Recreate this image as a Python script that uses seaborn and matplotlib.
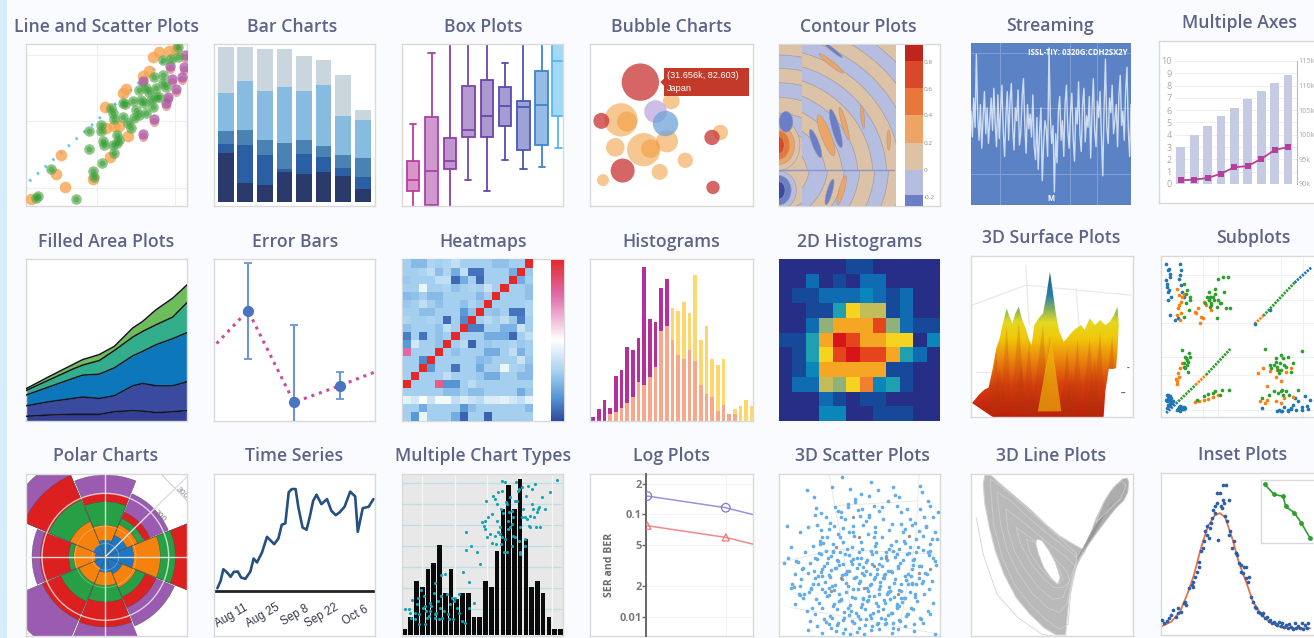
import warnings
import numpy as np
import pandas as pd
import matplotlib
matplotlib.use('Agg')
import matplotlib.pyplot as plt
import seaborn as sns
from matplotlib.colors import LinearSegmentedColormap, ListedColormap
from matplotlib.patches import Circle, Ellipse, Polygon, Rectangle, Wedge

warnings.filterwarnings('ignore')
sns.set_theme(style='white')
plt.rcParams['font.family'] = ['Open Sans', 'DejaVu Sans']

W, H = 1314, 638
BG = '#fafbfe'
FRAME = '#d9d9d9'
TITLE = '#5d6488'

# Line and Scatter Plots
scatter_line_x = [90, 400, 563]
scatter_line_y = [545, 265, 120]
scatter_orange_x = [95, 170, 197, 185, 280, 333, 318, 360, 385, 372, 380, 430, 450, 462, 478, 510, 530, 320, 345]
scatter_orange_y = [598, 522, 563, 467, 537, 473, 322, 380, 410, 280, 268, 228, 212, 170, 155, 152, 145, 385, 378]
scatter_green_x = [115, 110, 155, 230, 282, 285, 307, 268, 268, 305, 305, 312, 315, 340, 352, 345, 352, 335, 340, 345, 370, 372,
                   378, 400, 405, 395, 410, 435, 440, 460, 420, 450, 470, 480, 465, 490, 490, 490, 515, 535, 535, 425, 360, 440,
                   470, 500, 420, 455, 385]
scatter_green_y = [590, 595, 508, 600, 515, 532, 490, 393, 447, 375, 395, 425, 437, 437, 405, 460, 430, 325, 340, 358, 350, 310,
                   312, 303, 355, 385, 330, 310, 340, 320, 270, 275, 265, 290, 232, 225, 250, 178, 175, 170, 140, 300, 420, 265,
                   290, 260, 345, 300, 370]
scatter_purple_x = [430, 430, 465, 500, 505, 530, 518, 547, 513, 555, 558]
scatter_purple_y = [242, 403, 357, 310, 290, 268, 238, 232, 197, 200, 165]

# Bar Charts, one row per layer from the bottom
bar_layers = [[30.3, 11.9, 10.6, 18.4, 17.0, 18.4, 16.0, 8.0],
              [5.7, 23.3, 18.6, 2.0, 12.7, 9.4, 4.9, 7.2],
              [8.0, 9.4, 9.2, 16.0, 8.8, 6.5, 7.8, 11.9],
              [23.1, 30.0, 30.0, 34.4, 29.9, 38.0, 24.3, 23.3],
              [28.6, 20.9, 25.8, 23.5, 21.5, 15.1, 25.6, 6.5]]
bar_colors = ['#2a3a6b', '#2b5fa3', '#4a82b3', '#87bbe0', '#c9d6de']

# Box Plots
box_pos = [53, 109, 164, 219, 275, 330, 385, 440, 490]
box_lo = [640, 640, 640, 542, 576, 481, 509, 502, 445]
box_q1 = [576, 616, 509, 411, 411, 380, 451, 437, 347]
box_med = [541, 515, 484, 392, 349, 319, 320, 314, 183]
box_q3 = [483, 350, 415, 258, 240, 260, 304, 214, 110]
box_hi = [372, 157, 90, 90, 90, 188, 90, 90, 90]
box_colors = ['#bb3f9f', '#a844a8', '#8f3fa8', '#7a48a8', '#6a45a8', '#5a4cb0', '#4a58b8', '#3f85d0', '#55b8ee']

# Bubble Charts
bubble_red_x = [735, 618, 682, 950, 953]
bubble_red_y = [246, 363, 513, 413, 564]
bubble_red_r = [56, 24, 36, 23, 20]
bubble_orange_x = [828, 677, 695, 660, 745, 765, 815, 975, 870, 793, 623]
bubble_orange_y = [303, 360, 365, 443, 450, 447, 425, 398, 482, 517, 542]
bubble_orange_r = [25, 50, 30, 28, 50, 28, 33, 23, 23, 24, 18]

# Contour Plots
contour_radii = [640, 590, 545, 505, 465, 425, 385, 345, 305, 262, 218, 170, 118]
contour_levels = [617, 585, 508, 428, 345, 265, 183, 135]
contour_level_colors = ['#6a7fc8', '#b5bde0', '#dcc3a8', '#eda565', '#e8773a', '#d9482b', '#c0241f']
contour_ticks = ['-0.2', '0', '0.2', '0.4', '0.6', '0.8']
contour_tick_y = [593, 511, 430, 347, 268, 186]

# Streaming
stream_y = [58, 42, 66, 48, 93, 55, 40, 62, 35, 54, 70, 44, 60, 38, 52, 66, 46, 72, 50, 36, 68, 41, 58, 74, 45, 30, 56, 70, 40, 64,
            75, 48, 34, 60, 52, 71, 37, 44, 66, 78, 50, 32, 62, 47, 56, 42, 68, 36, 28, 54, 22, 45, 60, 15, 38, 52, 47, 30, 97, 55,
            38, 49, 8, 44, 26, 58, 67, 40, 52, 30, 63, 74, 46, 35, 57, 69, 41, 27, 60, 50, 76, 44, 33, 62, 72, 39, 55, 48, 67, 29,
            58, 78, 46, 36, 64, 54, 70, 42, 18, 60, 90, 48, 38, 66, 57, 74, 44, 52, 62, 36, 68, 80, 49, 58, 40, 70, 85, 46, 30, 62]
stream_grid_x = [18, 62, 79]
stream_grid_y = [19, 60, 94]

# Multiple Axes
axes_bars = [3.0, 4.0, 4.7, 5.5, 6.2, 6.9, 7.55, 8.2, 8.85]
axes_line_k = [90.75, 90.9, 91.2, 92.1, 93.4, 93.65, 95.1, 96.9, 97.5]
axes_left_ticks = [0, 1, 2, 3, 4, 5, 6, 7, 8, 9, 10]
axes_right_ticks = [90, 95, 100, 105, 110, 115]
axes_right_labels = ['90k', '95k', '100k', '105k', '110k', '115k']

# Filled Area Plots
area_x = [0, 14.5, 29, 35.2, 45.5, 54.9, 66.3, 72.5, 80.8, 91.1, 100]
area_t1 = [2.9, 3.7, 4.1, 4.1, 4.1, 5.7, 6.4, 6.1, 5.1, 5.7, 6.4]
area_t2 = [9.4, 11.9, 13.9, 14.8, 13.9, 15.6, 21.7, 23.2, 21.7, 21.7, 24.2]
area_t3 = [16, 21.1, 26.2, 28.3, 28.9, 32.8, 40.2, 43, 47.1, 50.8, 54.5]
area_t4 = [18.8, 25.4, 32, 34.5, 37.3, 43.5, 51.8, 55.3, 59.4, 64.1, 73]
area_t5 = [19.9, 27.5, 34.8, 37.9, 41, 46.1, 57.4, 61.5, 68.7, 75.8, 84]
area_colors = ['#343f96', '#3a4a9e', '#0c77bb', '#32ae8c', '#6dbd5a']

# Error Bars
err_x = [21.1, 49.7, 78.4]
err_y = [68.2, 11.5, 21.9]
err_hi = [97.7, 59.4, 30.5]
err_lo = [38.5, -3, 13.5]
err_line_x = [1.6, 21.1, 49.7, 78.4, 100]
err_line_y = [47.8, 68.2, 11.5, 21.9, 30.3]

# Heatmaps, rows from the top
heat_rows = [
    [.30, .24, .24, .32, .30, .32, .36, .30, .30, .30, .30, .26, .26, .30, .30, 1.0],
    [.30, .30, .32, .36, .25, .32, .20, .36, .08, .08, .30, .30, .30, .20, 1.0, .28],
    [.28, .30, .30, .30, .36, .36, .06, .20, .30, .06, .30, .30, .30, 1.0, .20, .30],
    [.30, .30, .46, .30, .30, .32, .26, .30, .32, .30, .38, .30, 1.0, .30, .30, .26],
    [.24, .26, .30, .24, .24, .30, .30, .30, .30, .24, .30, 1.0, .30, .30, .30, .26],
    [.28, .30, .36, .30, .26, .30, .30, .26, .32, .28, 1.0, .30, .30, .30, .30, .32],
    [.30, .30, .25, .25, .30, .30, .30, .15, .26, 1.0, .28, .26, .30, .08, .08, .32],
    [.32, .30, .30, .32, .30, .06, .30, .12, 1.0, .30, .34, .30, .35, .28, .10, .30],
    [.26, .30, .30, .30, .26, .36, .30, 1.0, .10, .10, .30, .30, .22, .22, .38, .30],
    [.10, .30, .08, .30, .26, .30, 1.0, .30, .30, .30, .20, .20, .20, .06, .30, .36],
    [.15, .40, .30, .30, .26, 1.0, .30, .34, .05, .30, .28, .30, .30, .32, .28, .30],
    [.78, .30, .30, .30, 1.0, .30, .26, .30, .30, .30, .20, .20, .30, .36, .22, .30],
    [.30, .30, .12, 1.0, .30, .30, .30, .30, .30, .24, .26, .30, .30, .30, .38, .28],
    [.30, .30, 1.0, .15, .30, .30, .08, .30, .30, .20, .30, .30, .46, .32, .30, .24],
    [.30, 1.0, .30, .30, .30, .36, .30, .30, .30, .28, .20, .20, .30, .30, .24, .24],
    [1.0, .30, .30, .30, .82, .14, .14, .30, .35, .30, .30, .30, .30, .30, .30, .30],
    [.30, .30, .30, .30, .30, .25, .25, .30, .25, .25, .30, .30, .30, .30, .20, .28],
    [.44, .40, .50, .38, .48, .48, .36, .42, .38, .34, .42, .42, .44, .40, .36, .44],
    [.30, .30, .20, .30, .30, .30, .30, .15, .25, .30, .30, .30, .30, .30, .30, .24],
    [.30, .15, .46, .30, .30, .30, .20, .05, .30, .30, .05, .30, .30, .30, .30, .30]]
heat_colors = ['#2e4a9e', '#5a9ad8', '#a5d0ef', '#ffffff', '#e06aa8', '#e32a2a']
heat_stops = [0, .15, .3, .5, .78, 1]

# Histograms
hist_a = [2.3, 7.4, 12.9, 7.8, 27.7, 31.4, 45.9, 43.9, 51.2, 95, 62.7, 61.3, 82.4, 87.7, 49.8, 40.6, 38.5, 44.1, 37, 22.1, 16.6,
          15, 6.1, 9.8, 4.1, 4.1, 0, 0, 0]
hist_b = [0, 0, 0, 4.1, 5.7, 7.8, 10.9, 15, 24.2, 22.1, 27.3, 33.4, 55.3, 58.4, 69.7, 68, 73.4, 66.6, 90, 49.8, 58.8, 38.5, 34.8,
          38.5, 4.5, 7.4, 9.4, 12.9, 9.4]

# 2D Histograms, rows from the top
hist2d_rows = [[0, 0, 0, 0, 0, 1, 1, 0, 0, 0, 0, 0],
               [0, 0, 2, 0, 1, 0, 2, 2, 0, 0, 0, 0],
               [0, 1, 1, 2, 2, 2, 3, 2, 1, 2, 0, 0],
               [0, 0, 1, 1, 4, 7, 6, 6, 1, 2, 0, 0],
               [0, 0, 2, 5, 8, 8, 7.5, 10, 5, 2, 1, 1],
               [1, 1, 4, 8, 11, 10, 8, 8, 7, 7, 0, 3],
               [0, 1, 4, 7, 9.5, 11, 10, 10, 7.5, 4, 2, 0],
               [0, 1, 3, 8, 8, 8, 8, 8, 1, 1, 0, 0],
               [0, 2, 2, 6, 5, 7, 9, 3, 4, 1, 0, 0],
               [0, 0, 0, 2, 1, 0, 1, .5, 0, 0, 0, 0],
               [0, 0, 0, 3, 3, 0, 0, 1, 1, 1, 0, 0]]
hist2d_colors = ['#262f85', '#17499b', '#0f6cb2', '#0a86bb', '#1f9fb0', '#90b27a', '#c2bd58', '#f5d320', '#f5a623', '#f08030',
                 '#e5451d', '#d6151b']

# 3D Surface Plots
surface_x = [580, 600, 615, 628, 640, 650, 660, 668, 680, 688, 697, 705, 715, 725, 735, 745, 752, 760, 772, 785, 795, 805, 812, 822,
             832, 845, 858, 870, 880, 895, 905, 920, 935, 950, 965, 978, 990, 1000, 1004, 1000, 996, 988, 975, 965, 960, 640]
surface_y = [535, 510, 495, 488, 430, 370, 340, 300, 250, 275, 295, 265, 245, 285, 310, 345, 360, 300, 280, 265, 210, 140, 190, 265,
             320, 350, 335, 320, 310, 300, 315, 280, 300, 285, 300, 290, 270, 245, 300, 380, 430, 432, 432, 500, 577, 577]
surface_spike_x = [[630, 650, 665], [660, 680, 695], [690, 715, 735], [725, 745, 760], [750, 785, 800], [835, 855, 870], [865, 885, 900],
                   [895, 920, 935], [925, 950, 965], [960, 985, 1000], [610, 635, 650], [700, 722, 740], [770, 792, 815], [845, 868, 885],
                   [905, 935, 950], [975, 995, 1003], [640, 660, 680], [735, 755, 775], [820, 845, 860], [790, 805, 825]]
surface_spike_y = [[575, 380, 570], [570, 300, 560], [575, 290, 565], [570, 350, 570], [575, 300, 565], [575, 370, 570], [575, 340, 575],
                   [570, 340, 570], [575, 320, 570], [575, 330, 570], [560, 470, 570], [570, 420, 570], [575, 450, 575], [575, 440, 570],
                   [575, 400, 575], [575, 460, 575], [540, 430, 560], [575, 490, 575], [575, 500, 575], [480, 330, 480]]

# Subplots
sub_blue_x = [1140, 1145, 1150, 1142, 1148, 1153, 1146, 1140, 1151, 1144, 1150, 1180, 1184, 1178, 1182, 1186, 1180, 1190, 1148, 1143,
              1165, 1175, 1395, 1440, 1148, 1140, 1155, 1150, 1145, 1160, 1142, 1150, 1175, 1185, 1170, 1192, 1180, 1465, 1480, 1500,
              1520, 1540, 1555, 1510, 1490, 1530, 1415, 1470, 1505, 1545, 1143, 1149, 1155, 1141, 1147, 1152, 1158, 1144, 1150, 1156,
              1146, 1152, 1178, 1184, 1190, 1174, 1181, 1188, 1194, 1475, 1490, 1515, 1530, 1550, 1460, 1500]
sub_blue_y = [115, 135, 155, 175, 195, 215, 225, 165, 145, 200, 270, 115, 135, 160, 180, 200, 150, 215, 130, 185, 285, 280, 296, 255,
              515, 525, 520, 535, 510, 530, 550, 545, 552, 548, 556, 554, 545, 555, 548, 552, 530, 515, 525, 520, 555, 555, 550, 558,
              540, 545, 512, 518, 526, 530, 524, 515, 528, 540, 540, 535, 520, 530, 548, 552, 548, 552, 558, 553, 550, 560, 558, 556, 548, 552, 558, 550]
sub_orange_x = [1172, 1178, 1183, 1175, 1186, 1170, 1180, 1190, 1176, 1182, 1222, 1232, 1240, 1250, 1255, 1262, 1225, 1245, 1236, 1270,
                1268, 1172, 1168, 1175, 1180, 1185, 1170, 1178, 1222, 1235, 1248, 1260, 1275, 1290, 1405, 1420, 1440, 1455, 1470, 1485,
                1430, 1460, 1500, 1410, 1430, 1455, 1480, 1505, 1425, 1470]
sub_orange_y = [190, 210, 230, 250, 215, 270, 285, 205, 240, 265, 260, 250, 275, 230, 240, 225, 265, 280, 295, 215, 255, 478, 462, 445,
                430, 415, 470, 455, 533, 530, 527, 522, 517, 510, 445, 430, 438, 455, 470, 442, 485, 435, 430, 530, 525, 528, 520, 518,
                535, 535]
sub_green_x = [1192, 1200, 1208, 1196, 1205, 1190, 1198, 1210, 1252, 1265, 1280, 1290, 1305, 1318, 1270, 1262, 1295, 1312, 1325, 1285,
               1185, 1195, 1205, 1190, 1200, 1208, 1195, 1203, 1230, 1260, 1280, 1300, 1320, 1250, 1275, 1295, 1425, 1440, 1455, 1470,
               1490, 1505, 1530, 1465, 1480, 1500, 1415, 1435, 1450, 1475, 1495, 1520, 1262, 1270, 1278, 1285, 1258, 1266, 1274, 1282,
               1290, 1298, 1306, 1460, 1468, 1476, 1484, 1455, 1463, 1471, 1450, 1442, 1462, 1470, 1478, 1486, 1198, 1204, 1192, 1200]
sub_green_y = [175, 195, 215, 235, 255, 275, 205, 225, 235, 215, 190, 160, 155, 155, 240, 200, 235, 250, 250, 280, 375, 395, 385, 415,
               405, 395, 430, 440, 525, 508, 500, 497, 497, 515, 505, 510, 372, 420, 400, 435, 395, 415, 378, 445, 420, 440, 520, 510,
               500, 495, 510, 495, 225, 235, 225, 245, 215, 245, 215, 205, 225, 235, 200, 425, 415, 400, 425, 410, 435, 390, 420, 430,
               505, 498, 510, 500, 400, 410, 425, 420]
sub_diag_x = [[1395, 1420], [1420, 1510], [1510, 1560], [1140, 1175], [1175, 1225], [1225, 1255], [1255, 1325]]
sub_diag_y = [[296, 272], [272, 172], [172, 125], [565, 530], [530, 480], [480, 450], [450, 372]]
sub_diag_colors = ['#ff7f0e', '#2ca02c', '#1f77b4', '#1f77b4', '#2ca02c', '#ff7f0e', '#2ca02c']

# Polar Charts, outer radius of each layer per direction, clockwise from north
polar_dirs = [0, 45, 90, 135, 180, 225, 270, 315]
polar_blue = [46, 55, 85, 70, 50, 40, 30, 35]
polar_orange = [86, 100, 165, 105, 95, 115, 95, 85]
polar_green = [135, 130, 210, 125, 165, 185, 110, 145]
polar_red = [210, 165, 290, 145, 190, 265, 195, 205]
polar_purple = [260, 225, 290, 205, 245, 320, 220, 320]
polar_layer_colors = ['#9a5bb0', '#dc1f1f', '#27a045', '#f5820d', '#1f77c4']

# Time Series
ts_x = [2.1, 4.1, 5.8, 8.2, 10.3, 12.3, 14.8, 16.8, 19.5, 22.6, 24.6, 26.7, 29.8, 32.9, 35.3, 37.4, 40, 42.1, 44.3, 46.4, 48.3, 50.7,
        52.4, 55, 57.5, 59.5, 61.6, 63.7, 66.7, 70.2, 72.9, 75.6, 78, 81.1, 84.6, 87.7, 89.3, 92.4, 96.1, 99]
ts_y = [29.5, 34, 41.2, 39.2, 36.5, 39.6, 39.8, 36.1, 35.3, 39.8, 47.8, 45.4, 51.5, 61.2, 58.8, 56.7, 60.2, 68.7, 69.5, 88.7, 90.7,
        90.7, 79.4, 67, 65.6, 73.6, 83.5, 87.2, 81.4, 84.5, 77.3, 74.6, 76.3, 79.8, 89.1, 86.2, 64.3, 78.9, 79.8, 84.5]
ts_labels = ['Aug 11', 'Aug 25', 'Sep 8', 'Sep 22', 'Oct 6']
ts_label_x = [11, 30.5, 50.5, 67, 88]

# Multiple Chart Types
multi_counts = [1, 3, 9, 8, 11, 12, 15, 7, 11, 6, 7, 7, 3, 3, 9, 8, 14, 21, 25, 21, 26, 16, 8, 9, 7, 3, 1, 1]
multi_grid_y = [138, 201, 263, 326, 388, 451, 513, 576]
multi_grid_x = [80, 178, 276, 374, 472]
multi_dots_x = [28, 45, 50, 48, 42, 60, 65, 72, 78, 85, 92, 100, 108, 115, 122, 128, 135, 140, 150, 158, 165, 172, 178, 185, 192, 200,
                210, 220, 236, 58, 70, 82, 95, 105, 118, 130, 145, 160, 175, 190, 68, 88, 103, 120, 138, 155, 170, 118, 138, 90, 202,
                220, 255, 212, 228, 245, 212, 270, 270, 275, 285, 290, 300, 310, 320, 315, 330, 340, 350, 360, 370, 380, 390, 400, 410,
                420, 430, 440, 450, 465, 487, 262, 268, 280, 295, 305, 318, 325, 335, 345, 355, 365, 375, 385, 395, 405, 415, 425, 435,
                300, 310, 322, 332, 342, 352, 362, 372, 382, 392, 402, 412, 422, 432, 290, 305, 315, 330, 345, 360, 375, 390, 318, 328,
                340, 355, 372, 390, 405, 418, 272, 302, 320, 336, 350, 376]
multi_dots_y = [513, 527, 488, 540, 515, 545, 500, 530, 458, 475, 520, 535, 505, 465, 525, 490, 510, 540, 410, 530, 500, 545, 480, 510,
                470, 550, 555, 510, 495, 525, 560, 510, 540, 495, 530, 545, 520, 545, 490, 525, 480, 560, 520, 435, 412, 470, 480, 540,
                475, 505, 402, 433, 380, 285, 325, 345, 337, 250, 275, 300, 290, 318, 295, 285, 130, 270, 135, 250, 220, 190, 160, 150,
                305, 145, 155, 140, 215, 180, 215, 165, 127, 255, 265, 240, 175, 200, 215, 228, 200, 180, 240, 190, 270, 215, 245, 235,
                215, 225, 270, 185, 165, 160, 195, 225, 260, 135, 155, 240, 175, 265, 200, 268, 210, 230, 250, 290, 305, 270, 300, 350,
                240, 320, 345, 275, 295, 310, 325, 270, 238, 190, 320, 300, 345, 325, 345, 345]

# Log Plots
log_x = [0, 100, 134]
log_ser = [.151, .116, .0997]
log_ber = [.0774, .0595, .0512]
log_ticks = [.2, .1, .05, .02, .01]
log_tick_labels = ['2', '0.1', '5', '2', '0.01']

# 3D Scatter Plots
scatter3d_x = [48, 105, 125, 178, 208, 230, 292, 310, 355, 360, 432, 438, 455, 462, 128, 145, 160, 188, 205, 225, 245, 262, 285, 298, 315, 340, 372, 395, 418, 445,
               470, 485, 60, 85, 110, 135, 150, 170, 195, 215, 240, 258, 275, 302, 325, 350, 378, 402, 428, 450, 475, 52, 75, 100, 122, 142, 162, 182,
               202, 222, 242, 262, 282, 302, 322, 342, 362, 382, 402, 422, 442, 462, 482, 70, 92, 115, 135, 155, 175, 195, 215, 235, 255, 275, 295,
               315, 335, 355, 375, 395, 415, 435, 455, 475, 40, 62, 88, 108, 128, 148, 168, 188, 208, 228, 248, 268, 288, 308, 328, 348, 368, 388,
               408, 428, 448, 468, 98, 118, 138, 158, 178, 198, 218, 238, 258, 278, 298, 318, 338, 358, 378, 398, 418, 438, 458, 72, 95, 120, 140,
               165, 185, 205, 225, 245, 265, 285, 305, 325, 345, 365, 385, 405, 425, 445, 470, 60, 82, 105, 130, 150, 172, 192, 212, 232, 252, 272,
               292, 312, 332, 352, 372, 392, 412, 432, 455, 115, 135, 155, 175, 195, 215, 235, 255, 275, 295, 315, 335, 355, 375, 395, 415, 435,
               460, 85, 125, 145, 165, 185, 205, 225, 245, 265, 285, 305, 325, 345, 365, 385, 410, 430, 450, 475, 108, 150, 170, 190, 210, 230,
               250, 270, 290, 310, 330, 350, 370, 390, 415, 440, 462, 130, 190, 215, 240, 265, 290, 315, 340, 365, 410, 440, 142, 200, 228, 255,
               300, 330, 378, 420, 468, 170, 210, 280, 345, 390, 150, 180, 222, 268, 360]
scatter3d_y = [265, 157, 180, 150, 118, 155, 135, 158, 150, 172, 145, 165, 190, 205, 232, 228, 240, 210, 238, 200, 185, 170, 175, 205, 220, 190, 180, 215, 258, 240,
               240, 225, 328, 285, 270, 262, 300, 275, 290, 245, 265, 235, 250, 270, 245, 260, 225, 245, 280, 265, 285, 360, 370, 345, 325, 310, 340, 320,
               300, 335, 295, 315, 290, 325, 300, 335, 310, 285, 330, 305, 295, 320, 305, 410, 395, 375, 365, 385, 355, 370, 350, 380, 345, 372, 350,
               378, 355, 340, 375, 350, 365, 385, 345, 370, 375, 440, 425, 405, 420, 395, 412, 390, 425, 400, 418, 388, 410, 395, 420, 400, 392, 415,
               395, 420, 405, 430, 470, 455, 440, 462, 445, 470, 435, 455, 430, 450, 425, 445, 470, 435, 460, 440, 470, 435, 455, 500, 480, 510, 495,
               475, 500, 485, 510, 480, 500, 475, 495, 515, 485, 505, 480, 510, 490, 470, 495, 450, 470, 520, 530, 510, 535, 515, 540, 520, 535, 515,
               540, 520, 545, 525, 505, 535, 515, 540, 520, 550, 565, 545, 570, 555, 575, 550, 570, 545, 565, 575, 555, 570, 550, 530, 560, 545,
               530, 445, 400, 350, 300, 265, 225, 210, 195, 215, 240, 345, 420, 460, 500, 310, 435, 385, 270, 590, 578, 585, 560, 580, 585,
               590, 582, 590, 578, 555, 560, 585, 575, 565, 580, 555, 340, 360, 390, 410, 365, 405, 440, 470, 400, 350, 440, 430, 320, 345, 285,
               380, 300, 410, 480, 345, 305, 450, 380, 490, 460, 275, 415, 345, 400, 480]
scatter3d_more_x = [140, 152, 167, 181, 193, 211, 226, 237, 251, 266, 279, 291, 306, 319, 333, 348, 359, 371, 388, 401, 413, 426, 147, 163, 176, 199, 219, 233, 249, 261,
                    277, 293, 309, 323, 337, 352, 368, 383, 399, 411, 124, 138, 158, 173, 186, 206, 224, 241, 256, 271, 287, 303, 317, 329, 344, 361, 376, 391,
                    407, 421, 113, 131, 149, 169, 183, 203, 218, 236, 254, 269, 283, 299, 313, 327, 341, 357, 373, 389, 404, 419, 181, 197, 213, 229, 247, 263,
                    281, 297, 311, 331, 349, 367, 381, 397, 161, 177, 193, 209, 227, 243, 259, 273, 289, 307, 321, 339, 353, 371, 147, 171, 211, 239, 267, 301,
                    343, 377, 409, 131, 196, 252, 286, 322, 366, 433, 95, 118, 87, 442, 458, 471, 452, 80, 67, 479]
scatter3d_more_y = [348, 318, 362, 342, 366, 313, 352, 328, 361, 334, 366, 340, 317, 362, 344, 322, 358, 336, 318, 347, 366, 330, 403, 376, 398, 382, 408, 371, 392, 362,
                    401, 379, 408, 386, 368, 404, 385, 367, 409, 382, 438, 416, 432, 418, 441, 412, 444, 421, 436, 413, 442, 419, 433, 411, 447, 424, 438, 428,
                    414, 439, 462, 484, 453, 471, 458, 487, 463, 478, 455, 483, 461, 476, 453, 486, 462, 478, 456, 482, 464, 478, 506, 491, 523, 502, 526, 509,
                    487, 527, 506, 497, 526, 512, 492, 528, 552, 541, 561, 548, 532, 556, 544, 562, 533, 558, 542, 531, 556, 546, 278, 258, 272, 283, 262, 285,
                    277, 259, 262, 213, 222, 218, 232, 208, 205, 214, 392, 452, 472, 338, 352, 362, 408, 372, 448, 382]
scatter3d_brown_x = [190, 255, 335, 400, 460, 205, 270, 175, 370, 430, 240, 300]
scatter3d_brown_y = [330, 300, 360, 295, 395, 420, 450, 460, 470, 405, 240, 385]

# 3D Line Plots, outlines of the attractor and some of its loops
lorenz_left_x = [615, 632, 660, 700, 745, 790, 830, 870, 905, 893, 880, 868, 858, 852, 848, 820, 785, 745, 705, 670, 645, 628, 615, 610]
lorenz_left_y = [113, 113, 140, 175, 215, 260, 295, 320, 340, 358, 385, 425, 480, 540, 592, 592, 570, 530, 480, 410, 340, 270, 200, 140]
lorenz_hole_x = [765, 780, 800, 818, 832, 825, 805, 785, 770, 762]
lorenz_hole_y = [305, 310, 340, 375, 420, 440, 420, 390, 350, 320]
lorenz_wing_x = [895, 915, 935, 955, 975, 995, 1012, 1025, 1030, 1027, 1015, 995, 975, 955, 935, 915, 900]
lorenz_wing_y = [345, 300, 245, 200, 165, 140, 125, 122, 135, 165, 190, 210, 235, 262, 290, 320, 345]
lorenz_core_x = [860, 895, 930, 975, 990, 950, 915, 880]
lorenz_core_y = [400, 345, 290, 205, 190, 240, 295, 365]
lorenz_loops_x = [[630, 665, 715, 770, 825, 880, 875, 862, 855, 830, 790, 745, 700, 665, 640, 630],
                  [650, 690, 735, 785, 835, 880, 865, 850, 830, 795, 750, 710, 680, 660, 650],
                  [675, 715, 755, 800, 845, 875, 855, 840, 810, 770, 730, 700, 682, 675],
                  [705, 745, 780, 815, 850, 860, 840, 815, 785, 750, 720, 705],
                  [735, 770, 800, 830, 840, 825, 800, 770, 745, 735],
                  [590, 610, 650, 710, 780, 845],
                  [960, 985, 1010, 1022, 1005, 975, 950, 935, 960]]
lorenz_loops_y = [[125, 150, 195, 245, 295, 350, 400, 470, 560, 575, 545, 500, 440, 360, 260, 125],
                  [165, 190, 235, 280, 320, 360, 430, 500, 525, 510, 465, 405, 340, 260, 165],
                  [215, 245, 280, 320, 355, 385, 440, 480, 485, 450, 395, 340, 280, 215],
                  [270, 300, 325, 360, 400, 430, 450, 450, 425, 380, 325, 270],
                  [305, 320, 350, 395, 425, 440, 420, 385, 345, 305],
                  [240, 350, 470, 540, 590, 600],
                  [190, 150, 130, 145, 185, 215, 240, 255, 190]]

# Inset Plots
inset_curve_x = [1130, 1160, 1185, 1205, 1225, 1245, 1265, 1285, 1300, 1315, 1335, 1355, 1375, 1395, 1420, 1445, 1480, 1520, 1560]
inset_curve_y = [565, 550, 520, 470, 410, 330, 265, 232, 225, 238, 300, 375, 430, 490, 530, 553, 568, 570, 570]
inset_dots_x = [1133, 1140, 1146, 1152, 1160, 1166, 1172, 1180, 1187, 1195, 1203, 1210, 1218, 1222, 1228, 1235, 1240, 1245, 1250, 1255,
                1258, 1262, 1268, 1272, 1276, 1280, 1285, 1290, 1295, 1300, 1305, 1310, 1315, 1320, 1325, 1330, 1335, 1340, 1345, 1350,
                1355, 1360, 1365, 1370, 1375, 1380, 1385, 1390, 1395, 1400, 1405, 1410, 1415, 1420, 1425, 1430, 1435, 1440, 1445, 1450,
                1455, 1460, 1465, 1470, 1475, 1480, 1485, 1490, 1495, 1500, 1505, 1510, 1515, 1520, 1525, 1530, 1535, 1540, 1545, 1550,
                1555, 1308, 1318, 1290, 1285, 1302, 1275, 1262, 1312, 1326, 1240, 1222, 1200, 1180, 1360, 1375, 1345]
inset_dots_y = [545, 555, 548, 540, 530, 515, 535, 510, 520, 495, 500, 450, 440, 445, 415, 400, 370, 340, 330, 310, 280, 265, 300, 270,
                240, 215, 205, 195, 305, 165, 210, 185, 235, 250, 290, 280, 330, 310, 345, 350, 375, 380, 405, 385, 420, 430, 415, 475,
                490, 505, 510, 520, 525, 530, 525, 540, 535, 548, 545, 555, 550, 558, 560, 552, 562, 555, 565, 560, 570, 558, 565, 572,
                555, 568, 562, 570, 555, 572, 560, 568, 555, 140, 140, 165, 225, 205, 255, 290, 195, 185, 385, 430, 490, 525, 400, 385, 345]
inset_green_x = [6.5, 21, 35, 39, 52.4, 63, 76.8]
inset_green_y = [93, 77, 74, 58, 48, 32, 8]


def panel(x0, y0, x1, y1, xlim=None, ylim=None, frame=True, bg='white'):
    ax = fig.add_axes([x0 / W, 1 - y1 / H, (x1 - x0) / W, (y1 - y0) / H], facecolor=bg)
    ax.set_xticks([])
    ax.set_yticks([])
    ax.set_xlim(xlim if xlim else (0, 100))
    ax.set_ylim(ylim if ylim else (0, 100))
    for s in ax.spines.values():
        s.set_color(FRAME)
        s.set_linewidth(1.0)
        s.set_visible(frame)
    return ax


def dots(ax, x, y, color, s=10, alpha=1.0, zorder=3, marker='o'):
    # some of the long hand-read lists differ by a point or two
    n = min(len(x), len(y))
    sns.scatterplot(x=x[:n], y=y[:n], color=color, s=s, alpha=alpha, linewidth=0, marker=marker, ax=ax, legend=False, zorder=zorder)


def line(ax, x, y, color, lw=1.0, ls='-', alpha=1.0, zorder=3):
    sns.lineplot(x=x, y=y, color=color, lw=lw, ls=ls, alpha=alpha, sort=False, estimator=None, ax=ax, legend=False, zorder=zorder)


def bars(ax, x, y, color, width):
    sns.barplot(x=x, y=y, color=color, saturation=1, width=width, linewidth=0, edgecolor='none', ax=ax)


def clean(ax):
    ax.set_xlabel('')
    ax.set_ylabel('')


fig = plt.figure(figsize=(W / 100, H / 100), dpi=100, facecolor=BG)
fig.patches.append(Rectangle((0, 0), 6.5 / W, 1, transform=fig.transFigure, facecolor='#d6ecfb', edgecolor='none'))

titles = [('Line and Scatter Plots', 106, 27), ('Bar Charts', 292, 27), ('Box Plots', 483, 27), ('Bubble Charts', 671, 27),
          ('Contour Plots', 858, 27), ('Streaming', 1050, 26), ('Multiple Axes', 1240, 23),
          ('Filled Area Plots', 106, 242), ('Error Bars', 295, 242), ('Heatmaps', 483, 242), ('Histograms', 671, 242),
          ('2D Histograms', 860, 242), ('3D Surface Plots', 1051, 238), ('Subplots', 1253, 238),
          ('Polar Charts', 106, 456), ('Time Series', 294, 456), ('Multiple Chart Types', 483, 456), ('Log Plots', 671, 456),
          ('3D Scatter Plots', 862, 456), ('3D Line Plots', 1051, 456), ('Inset Plots', 1243, 455)]
for txt, cx, cy in titles:
    fig.text(cx / W, 1 - cy / H, txt, ha='center', va='center', fontsize=12.7, color=TITLE, fontweight=600)

# Line and Scatter Plots
ax = panel(26, 44, 187, 206, (80, 563), (620, 131))
for v in [293, 527]:
    ax.axvline(v, color='#efefef', lw=0.8)
for v in [165, 362, 565]:
    ax.axhline(v, color='#efefef', lw=0.8)
line(ax, scatter_line_x, scatter_line_y, '#6cc5f5', lw=2.2, ls=(0, (0.8, 2.6)))
dots(ax, scatter_purple_x, [v + 8 for v in scatter_purple_y], '#ee7f86', s=42, alpha=.7)
dots(ax, scatter_orange_x, scatter_orange_y, '#f7a350', s=70, alpha=.8)
dots(ax, scatter_purple_x, scatter_purple_y, '#a65aa8', s=55, alpha=.75)
dots(ax, scatter_green_x, scatter_green_y, '#58a84a', s=58, alpha=.65)
dots(ax, scatter_green_x, scatter_green_y, '#1c9a2e', s=18, alpha=.45)
clean(ax)

# Bar Charts
ax = panel(214, 44, 375, 206, (-.6, 7.63), (-2.5, 97.5))
bar_top = np.cumsum(bar_layers, axis=0)
for i in range(4, -1, -1):
    bars(ax, list(range(8)), bar_top[i], bar_colors[i], .8)
ax.set_xlim(-.6, 7.63)
ax.set_xticks([])
ax.set_yticks([])
clean(ax)

# Box Plots
ax = panel(402, 44, 563, 206, (20, 504), (620, 131))
stats = [dict(whislo=a, q1=b, med=c, q3=d, whishi=e, fliers=[]) for a, b, c, d, e in zip(box_lo, box_q1, box_med, box_q3, box_hi)]
for st, p, c in zip(stats, box_pos, box_colors):
    bp = ax.bxp([st], positions=[p], widths=38, patch_artist=True, showfliers=False, manage_ticks=False,
                boxprops=dict(edgecolor=c, facecolor=matplotlib.colors.to_rgba(c, .55), lw=1.3),
                medianprops=dict(color=c, lw=1.3), whiskerprops=dict(color=c, lw=1.3), capprops=dict(color=c, lw=1.3))
ax.set_xlim(20, 504)
ax.set_ylim(620, 131)
ax.set_xticks([])
ax.set_yticks([])

# Bubble Charts
ax = panel(590, 44, 753, 206, (584, 1073), (620, 131))
ax.scatter(bubble_orange_x, bubble_orange_y, s=[(2 * r * .24) ** 2 for r in bubble_orange_r], color='#f29a38', alpha=.55, lw=0, zorder=2)
ax.scatter(bubble_red_x, bubble_red_y, s=[(2 * r * .24) ** 2 for r in bubble_red_r], color='#cc3f3f', alpha=.8, lw=0, zorder=3)
ax.scatter([780], [332], s=(2 * 34 * .24) ** 2, color='#b49ad6', alpha=.65, lw=0, zorder=4)
ax.scatter([810], [370], s=(2 * 38 * .24) ** 2, color='#6fa3d6', alpha=.75, lw=0, zorder=4)
ax.add_patch(Rectangle((807, 203), 255, 85, facecolor='#c33a2a', edgecolor='none', zorder=6))
ax.add_patch(Polygon([(807, 235), (807, 258), (795, 246)], facecolor='#c33a2a', edgecolor='none', zorder=6))
ax.text(814, 226, '(31.656k, 82.603)', color='white', fontsize=6.6, va='center', zorder=7, family=['Liberation Sans'])
ax.text(814, 265, 'Japan', color='white', fontsize=6.6, va='center', zorder=7, family=['Liberation Sans'])

# Contour Plots
ax = panel(779, 44, 940, 206)
ax = panel(779, 45, 895, 206, (25, 358), (617, 135), frame=False, bg='#b5bde0')
regions = [((25, 135, 65, 375), (25, 510)), ((90, 135, 270, 375), (-10, 530)), ((25, 510, 65, 107), (25, 510)), ((90, 510, 270, 107), (-5, 495))]
for (rx, ry, rw, rh), center in regions:
    clip = Rectangle((rx, ry), rw, rh, transform=ax.transData)
    for i, r in enumerate(contour_radii):
        c = Circle(center, r, facecolor='#dcc3a8' if i % 2 == 0 else '#b5bde0', edgecolor='#a89a9c', lw=.5, zorder=2)
        ax.add_patch(c)
        c.set_clip_path(clip)
for cx, cy, w, h, a, col in [(25, 435, 120, 150, 0, '#dcc3a8'), (25, 435, 90, 115, 0, '#eda565'), (25, 435, 60, 85, 0, '#e8773a'),
                             (25, 435, 30, 50, 0, '#d9482b'), (25, 570, 100, 115, 0, '#b5bde0'), (25, 570, 70, 88, 0, '#6a7fc8'),
                             (25, 570, 35, 52, 0, '#3a4aa8'), (45, 365, 40, 62, 0, '#6a7fc8'), (160, 405, 28, 130, -20, '#eda565'),
                             (130, 430, 20, 90, -20, '#6a7fc8'), (188, 385, 22, 120, -15, '#6a7fc8'), (212, 370, 14, 100, -15, '#eda565'),
                             (175, 190, 14, 90, -50, '#eda565'), (180, 150, 10, 70, -50, '#6a7fc8'), (205, 570, 16, 90, 15, '#eda565'),
                             (170, 575, 16, 80, 15, '#6a7fc8'), (265, 350, 10, 70, -5, '#eda565'), (340, 420, 10, 60, 0, '#eda565')]:
    ax.add_patch(Ellipse((cx, cy), w, h, angle=a, facecolor=col, edgecolor='#a89a9c', lw=.4, zorder=3))
ax.axhline(510, color='#8a94c8', lw=1, zorder=4)
ax = panel(779, 45, 940, 206, (25, 490), (617, 135), frame=False, bg='none')
for i, col in enumerate(contour_level_colors):
    ax.add_patch(Rectangle((390, contour_levels[i + 1]), 50, contour_levels[i] - contour_levels[i + 1], facecolor=col, edgecolor='none'))
for lab, y in zip(contour_ticks, contour_tick_y):
    ax.text(443, y, lab, fontsize=4.6, color='#888888', va='center')

# Streaming
ax = panel(971, 43, 1131, 205, bg='#5b82c4', frame=False)
for v in stream_grid_x:
    ax.axvline(v, color='#7fa0d4', lw=.7)
for v in stream_grid_y:
    ax.axhline(v, color='#7fa0d4', lw=.7)
line(ax, np.linspace(0, 100, len(stream_y)), stream_y, '#e4ecf8', lw=1.0, alpha=.85)
ax.text(98, 94, 'ISSL-TIY: 0320G:CDH2SX2Y', fontsize=5.6, color='white', ha='right', va='center', fontweight='bold')
ax.text(50, 4, 'M', fontsize=5.5, color='white', ha='center', va='center', fontweight='bold')
clean(ax)
ax.set_xlim(0, 100)
ax.set_ylim(0, 100)

# Multiple Axes
panel(1159, 41, 1322, 203)
ax = panel(1174.5, 61, 1297, 184, (-.465, 8.67), (0, 10), bg='none')
ax.yaxis.grid(True, color='#eeeeee', lw=.7)
ax.set_axisbelow(True)
bars(ax, list(range(9)), axes_bars, '#c5cbe3', .65)
ax.set_xlim(-.465, 8.67)
ax.set_xticks([])
ax.set_yticks(axes_left_ticks)
ax.tick_params(axis='y', labelsize=6.5, labelcolor='#a8a8a8', length=0, pad=2)
clean(ax)
ax2 = ax.twinx()
ax2.set_ylim(90, 115)
line(ax2, list(range(9)), axes_line_k, '#b5409b', lw=1.3)
dots(ax2, list(range(9)), axes_line_k, '#b5409b', s=24, marker='s')
ax2.set_yticks(axes_right_ticks)
ax2.set_yticklabels(axes_right_labels)
ax2.tick_params(axis='y', labelsize=5.2, labelcolor='#a8a8a8', length=0, pad=1)
clean(ax2)
for a in (ax, ax2):
    for k, s in a.spines.items():
        s.set_visible(False)
ax2.spines['right'].set_visible(True)
ax2.spines['right'].set_color('#bcbcbc')
ax2.spines['right'].set_linewidth(.8)

# Filled Area Plots
ax = panel(26, 259, 187, 421)
tops = [area_t1, area_t2, area_t3, area_t4, area_t5]
prev = [0] * len(area_x)
for t, c in zip(tops, area_colors):
    ax.fill_between(area_x, prev, t, color=c, lw=0)
    prev = t
for t in tops:
    line(ax, area_x, t, '#15151f', lw=1.1)
clean(ax)
ax.set_xlim(0, 100)
ax.set_ylim(0, 100)

# Error Bars
ax = panel(214, 259, 375, 421)
line(ax, err_line_x, err_line_y, '#c94d9f', lw=2.2, ls=(0, (1, 1.6)), zorder=2)
ax.errorbar(err_x, err_y, yerr=[np.array(err_y) - np.array(err_lo), np.array(err_hi) - np.array(err_y)], fmt='none',
            ecolor='#6e94d2', elinewidth=1.5, capsize=3, capthick=1.3, zorder=3)
dots(ax, err_x, err_y, '#4a74c0', s=65, zorder=4)
clean(ax)
ax.set_xlim(0, 100)
ax.set_ylim(0, 100)

# Heatmaps
panel(402, 259, 564, 421)
heat_cmap = LinearSegmentedColormap.from_list('heat', list(zip(heat_stops, heat_colors)))
ax = panel(402.5, 259.5, 533, 420.5)
cax = panel(550.5, 259.5, 563.5, 420.5, frame=False)
sns.heatmap(np.array(heat_rows), cmap=heat_cmap, vmin=0, vmax=1, ax=ax, cbar_ax=cax, xticklabels=False, yticklabels=False)
cax.set_yticks([])
ax.collections[0].colorbar.outline.set_visible(False)
clean(ax)

# Histograms
ax = panel(590, 259, 753, 421, (-.56, 28.2), (0, 100))
hist_x = list(range(len(hist_a)))
hist_overlap = np.minimum(hist_a, hist_b)
bars(ax, hist_x, hist_a, '#b5309b', .6)
bars(ax, hist_x, hist_b, '#fdd66e', .6)
bars(ax, hist_x, hist_overlap, '#f7a88a', .6)
ax.set_xlim(-.56, 28.2)
ax.set_ylim(0, 100)
ax.set_xticks([])
ax.set_yticks([])
clean(ax)

# 2D Histograms
ax = panel(779, 259, 940, 421)
sns.heatmap(np.array(hist2d_rows), cmap=ListedColormap(hist2d_colors), vmin=-.5, vmax=11.5, cbar=False, ax=ax, xticklabels=False, yticklabels=False)
clean(ax)

# 3D Surface Plots
ax = panel(971, 256, 1133, 417, (577, 1045), (577, 92))
for xs, ys in [([735, 745], [120, 300]), ([580, 735], [240, 180]), ([735, 1040], [180, 210]), ([880, 890], [190, 310]), ([590, 640], [440, 440])]:
    line(ax, xs, ys, '#e9e9e9', lw=.9, zorder=1)
surface_cmap = LinearSegmentedColormap.from_list('surface', [(0, '#1a5a9a'), (.1, '#1a5a9a'), (.243, '#2a80a8'), (.326, '#7fb060'), (.41, '#e5d820'),
                                                             (.51, '#f0c80a'), (.635, '#ec8a0e'), (.8, '#d9400f'), (1, '#c01a0e')])
im = ax.imshow(np.linspace(0, 1, 256).reshape(-1, 1), cmap=surface_cmap, extent=(577, 1045, 577, 92), aspect='auto', zorder=2)
clip = Polygon(list(zip(surface_x, surface_y)), transform=ax.transData)
im.set_clip_path(clip)
clean(ax)
ax.set_xlim(577, 1045)
ax.set_ylim(577, 92)
for xs, ys in zip(surface_spike_x, surface_spike_y):
    p = Polygon(list(zip(xs, ys)), facecolor='#a83a08', edgecolor='none', alpha=.22, zorder=3)
    ax.add_patch(p)
    p.set_clip_path(clip)
p = Polygon([(770, 560), (808, 340), (838, 560)], facecolor='#f5d20a', edgecolor='none', alpha=.55, zorder=3)
ax.add_patch(p)
p.set_clip_path(clip)
ax.text(1030, 430, '-', fontsize=6, color='#666666', ha='center', va='center', fontweight='bold')
ax.text(1018, 505, '--', fontsize=6, color='#666666', ha='center', va='center', fontweight='bold')

# Subplots
ax = panel(1161, 256, 1322, 417, (1125, 1589), (577, 92))
for v in [1245, 1290, 1470, 1535]:
    ax.axvline(v, color='#f0f0f0', lw=.7, zorder=1)
for v in [150, 225, 295, 395, 450, 555]:
    ax.axhline(v, color='#f0f0f0', lw=.7, zorder=1)
for xs, ys, c in zip(sub_diag_x, sub_diag_y, sub_diag_colors):
    line(ax, xs, ys, c, lw=2, ls=(0, (.8, .4)))
dots(ax, sub_blue_x, sub_blue_y, '#1f77b4', s=7)
dots(ax, sub_orange_x, sub_orange_y, '#ff7f0e', s=7)
dots(ax, sub_green_x, sub_green_y, '#2ca02c', s=7)
clean(ax)
ax.set_xlim(1125, 1589)
ax.set_ylim(577, 92)

# Polar Charts
ax = panel(26, 474, 187, 636, (80, 563), (595, 110))
layers = [polar_purple, polar_red, polar_green, polar_orange, polar_blue]
for vals, c in zip(layers, polar_layer_colors):
    for d, r in zip(polar_dirs, vals):
        ax.add_patch(Wedge((318, 358), r, 90 - d - 22, 90 - d + 22, facecolor=c, edgecolor='#4a4a4a', lw=.25, zorder=2))
ax.add_patch(Circle((318, 358), 190, facecolor='none', edgecolor='#ffffff', alpha=.7, lw=1, zorder=4))
for r in [40, 92]:
    ax.add_patch(Circle((318, 358), r, facecolor='none', edgecolor='#ffffff', alpha=.3, lw=.6, zorder=4))
ax.axvline(318, color='#f2f2f2', lw=1, alpha=.85, zorder=4)
ax.axhline(358, color='#f2f2f2', lw=1, alpha=.85, zorder=4)
line(ax, [318, 563], [358, 118], '#dddddd', lw=1, zorder=4)
line(ax, [80, 318], [595, 358], '#dddddd', lw=.7, zorder=1)
line(ax, [485, 563], [110, 190], '#cccccc', lw=.7, zorder=1)
ax.text(546, 166, '300', fontsize=6, color='#888888', rotation=-45, ha='center', va='center', clip_on=True, zorder=5)
ax.text(482, 236, '200', fontsize=6, color='#777777', rotation=-45, ha='center', va='center', zorder=5)
ax.text(412, 304, '100', fontsize=5.5, color='#5a9a5a', rotation=-45, ha='center', va='center', zorder=5)
clean(ax)
ax.set_xlim(80, 563)
ax.set_ylim(595, 110)

# Time Series
ax = panel(214, 474, 375, 636)
line(ax, ts_x, ts_y, '#25507f', lw=1.9)
ax.axhline(27.6, color='#222222', lw=2)
for lab, x in zip(ts_labels, ts_label_x):
    ax.text(x, 12.5, lab, fontsize=8.3, color='#33364a', rotation=30, ha='center', va='center', family=['Liberation Sans'])
clean(ax)
ax.set_xlim(0, 100)
ax.set_ylim(0, 100)

# Multiple Chart Types
ax2 = panel(402, 474, 563, 636, (20, 504), (595, 110), bg='#e8e8e8')
for v in multi_grid_y:
    ax2.axhline(v, color='#bcdfe4', lw=.9, zorder=1)
for v in multi_grid_x:
    ax2.axvline(v, color='#f6f6f6', lw=.9, zorder=1)
ax = panel(402, 474, 563, 636, (-.51, 27.45), (-.11, 26.83), frame=False, bg='none')
bars(ax, list(range(len(multi_counts))), multi_counts, '#0a0a0a', .8)
ax.set_xlim(-.51, 27.45)
ax.set_ylim(-.11, 26.83)
ax.set_xticks([])
ax.set_yticks([])
clean(ax)
ax3 = panel(402, 474, 563, 636, (20, 504), (595, 110), frame=False, bg='none')
dots(ax3, multi_dots_x, multi_dots_y, '#14a3b2', s=5)
clean(ax3)
ax3.set_xlim(20, 504)
ax3.set_ylim(595, 110)

# Log Plots
panel(590, 474, 753, 636)
ax = panel(645.7, 474, 752.5, 636, frame=False, bg='none')
ax.set_yscale('log')
ax.set_xlim(-2, 134)
ax.set_ylim(.00646, .248)
ax.axvline(100, color='#f1f1f1', lw=.7)
for v in log_ticks:
    ax.axhline(v, color='#f3f3f3', lw=.6)
line(ax, log_x, log_ser, '#9a90de', lw=1.1)
line(ax, log_x, log_ber, '#f08a8a', lw=1.1)
ax.scatter(log_x[:2], log_ser[:2], s=38, facecolor='none', edgecolor='#8078cf', lw=.9, zorder=4)
ax.scatter(log_x[:2], log_ber[:2], s=26, marker='^', facecolor='none', edgecolor='#ee7a7a', lw=.9, zorder=4)
clean(ax)
ax.set_yticks(log_ticks)
ax.set_yticklabels(log_tick_labels)
ax.minorticks_off()
ax.tick_params(axis='y', length=3, width=1, color='#666666', labelsize=8, labelcolor='#7a7a7a', pad=0, left=True)
for t in ax.get_yticklabels():
    t.set_fontweight('bold')
ax.spines['left'].set_visible(True)
ax.spines['left'].set_color('#666666')
ax.spines['left'].set_linewidth(1.4)
fig.text(609 / W, 1 - 565 / H, 'SER and BER', rotation=90, fontsize=7.6, color='#6a6a6a', ha='center', va='center', fontweight='bold')

# 3D Scatter Plots
ax = panel(779, 474, 940, 636, (25, 490), (595, 110))
for xs, ys in [([170, 185, 210, 240], [110, 200, 330, 595]), ([30, 190, 480], [375, 335, 350]), ([430, 420, 370], [110, 300, 590]),
               ([190, 430], [205, 190]), ([60, 260, 490], [510, 545, 590])]:
    line(ax, xs, ys, '#e8e8e8', lw=.7, zorder=1)
dots(ax, scatter3d_x, scatter3d_y, '#63ade8', s=7)
dots(ax, scatter3d_more_x, scatter3d_more_y, '#63ade8', s=7)
dots(ax, scatter3d_brown_x, scatter3d_brown_y, '#a09088', s=6)
clean(ax)
ax.set_xlim(25, 490)
ax.set_ylim(595, 110)

# 3D Line Plots
ax = panel(971, 474, 1133, 636, (575, 1042), (595, 110))
ax.add_patch(Polygon(list(zip(lorenz_left_x, lorenz_left_y)), facecolor='#b9b9b9', edgecolor='#d4d4d4', lw=.8, zorder=2))
ax.add_patch(Polygon(list(zip(lorenz_wing_x, lorenz_wing_y)), facecolor='#acacac', edgecolor='#cccccc', lw=.6, zorder=2))
ax.add_patch(Polygon(list(zip(lorenz_core_x, lorenz_core_y)), facecolor='#8c8c8c', edgecolor='none', alpha=.7, zorder=3))
for xs, ys in zip(lorenz_loops_x, lorenz_loops_y):
    line(ax, xs, ys, '#cfcfcf', lw=.6, alpha=.9, zorder=3)
ax.add_patch(Polygon(list(zip(lorenz_hole_x, lorenz_hole_y)), facecolor='white', edgecolor='#d0d0d0', lw=.5, zorder=4))
clean(ax)
ax.set_xlim(575, 1042)
ax.set_ylim(595, 110)

# Inset Plots
ax = panel(1161, 473, 1322, 635, (1130, 1594), (590, 105))
line(ax, inset_curve_x, inset_curve_y, '#e8714a', lw=1.3, zorder=2)
dots(ax, inset_dots_x, inset_dots_y, '#2d5fa8', s=7)
clean(ax)
ax.set_xlim(1130, 1594)
ax.set_ylim(590, 105)
ax = panel(1260.6, 480, 1325, 543)
line(ax, inset_green_x, inset_green_y, '#2ca02c', lw=1.2)
dots(ax, inset_green_x, inset_green_y, '#2ca02c', s=12)
clean(ax)
ax.set_xlim(0, 100)
ax.set_ylim(0, 100)

fig.savefig('out.png', dpi=100, facecolor=BG)
